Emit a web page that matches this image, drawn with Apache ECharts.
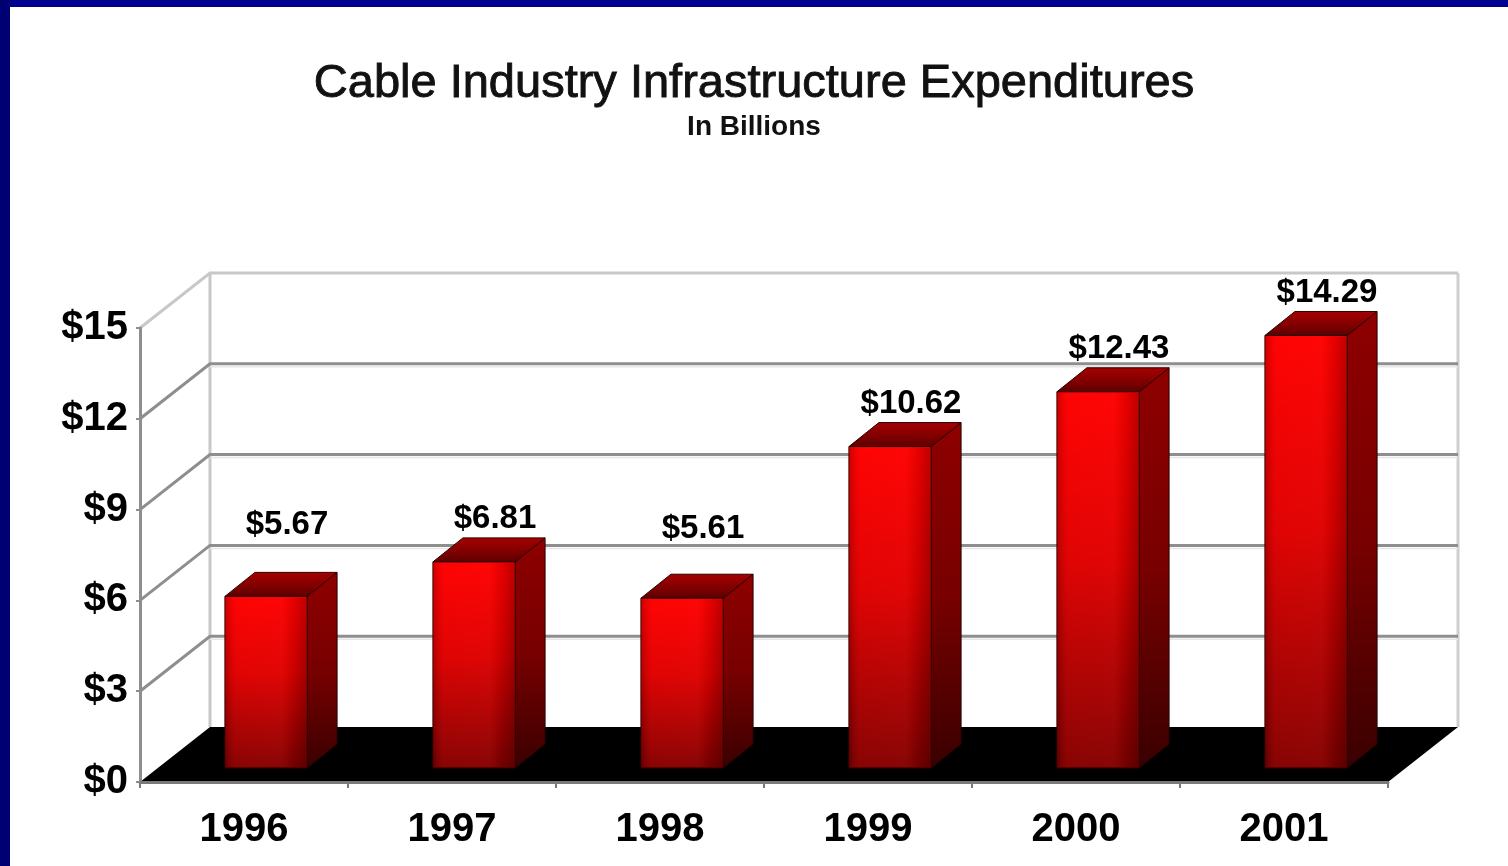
<!DOCTYPE html>
<html><head><meta charset="utf-8">
<script src="https://cdn.jsdelivr.net/npm/echarts@6/dist/echarts.min.js"></script>
<style>html,body{margin:0;padding:0;background:#fff}#c{width:1508px;height:866px}</style>
</head><body><div id="c"></div>
<script>
// ---- data ----
const categories = ['1996', '1997', '1998', '1999', '2000', '2001'];
const values = [5.67, 6.81, 5.61, 10.62, 12.43, 14.29];
const yTicks = [0, 3, 6, 9, 12, 15];

// ---- 3D look constants (styling only) ----
const DX = 70, DY = -55;          // full depth of the box
const BAR_SHIFT = [22, -14];      // bar front plane inside the box
const BAR_DX = 30, BAR_DY = -24;  // bar depth
const BAR_W = 0.395;              // fraction of category band
const LABEL_LIFT = { '1996': 28, '1998': 26 };
const FONT = "'Liberation Sans', Arial, sans-serif";

const chart = echarts.init(document.getElementById('c'), null, { renderer: 'canvas' });

function renderFrame(params, api) {
  const cs = params.coordSys;
  const L = cs.x, R = cs.x + cs.width;
  const y0 = api.coord([0, 0])[1];
  const yTop = api.coord([0, yTicks[yTicks.length - 1]])[1];
  const ch = [];
  ch.push({ type: 'line', shape: { x1: L + DX, y1: yTop + DY, x2: L + DX, y2: y0 + DY }, style: { stroke: '#c8c8c8', lineWidth: 3 } });
  ch.push({ type: 'line', shape: { x1: R + DX, y1: yTop + DY, x2: R + DX, y2: y0 + DY }, style: { stroke: '#cfcfcf', lineWidth: 3 } });
  yTicks.forEach(function (t, k) {
    if (t === 0) return;
    const y = api.coord([0, t])[1];
    const top = k === yTicks.length - 1;
    ch.push({ type: 'polyline', shape: { points: [[L, y], [L + DX, y + DY], [R + DX, y + DY]] },
      style: { stroke: top ? '#c8c8c8' : '#8e8e8e', lineWidth: 3, fill: null } });
    if (!top) {
      ch.push({ type: 'line', shape: { x1: L + DX, y1: y + DY + 3, x2: R + DX, y2: y + DY + 3 }, style: { stroke: '#e6e6e6', lineWidth: 1.5 } });
    }
  });
  ch.push({ type: 'polygon', shape: { points: [[L, y0], [R, y0], [R + DX, y0 + DY], [L + DX, y0 + DY]] }, style: { fill: '#000' } });
  return { type: 'group', children: ch };
}

function renderBar(params, api) {
  const i = api.value(0), v = api.value(1);
  const base = api.coord([i, 0]);
  const top = api.coord([i, v]);
  const bw = api.size([1, 0])[0] * BAR_W;
  const x0 = base[0] + BAR_SHIFT[0] - bw / 2, x1 = x0 + bw;
  const yb = base[1] + BAR_SHIFT[1], yt = top[1] + BAR_SHIFT[1];
  const G = echarts.graphic.LinearGradient;
  const edge = '#2a0000';
  const lift = LABEL_LIFT[categories[i]] || 0;
  return {
    type: 'group',
    children: [
      { type: 'polygon', shape: { points: [[x1, yt], [x1 + BAR_DX, yt + BAR_DY], [x1 + BAR_DX, yb + BAR_DY], [x1, yb]] },
        style: { fill: new G(0, 0, 0, 1, [{ offset: 0, color: '#8e0000' }, { offset: 0.5, color: '#780000' }, { offset: 1, color: '#3a0000' }]), stroke: edge, lineWidth: 1 } },
      { type: 'polygon', shape: { points: [[x0, yt], [x0 + BAR_DX, yt + BAR_DY], [x1 + BAR_DX, yt + BAR_DY], [x1, yt]] },
        style: { fill: new G(0, 1, 0, 0, [{ offset: 0, color: '#5a0000' }, { offset: 0.35, color: '#7a0000' }, { offset: 1, color: '#a80000' }]), stroke: edge, lineWidth: 1 } },
      { type: 'rect', shape: { x: x0, y: yt, width: bw, height: yb - yt },
        style: { fill: new G(0, 0, 0, 1, [{ offset: 0, color: '#ff0000' }, { offset: 0.45, color: '#dd0000' }, { offset: 0.85, color: '#960000' }, { offset: 1, color: '#7a0000' }]), stroke: edge, lineWidth: 1 } },
      { type: 'rect', shape: { x: x0 + 1, y: yt + 1, width: bw - 2, height: yb - yt - 2 },
        style: { fill: new G(0, 0, 1, 0, [{ offset: 0, color: 'rgba(0,0,0,0.18)' }, { offset: 0.12, color: 'rgba(255,40,40,0.10)' }, { offset: 0.7, color: 'rgba(255,60,60,0.10)' }, { offset: 0.86, color: 'rgba(0,0,0,0.10)' }, { offset: 1, color: 'rgba(0,0,0,0.25)' }]) } },
      { type: 'text', x: x0 + bw / 2 + 21, y: yt + BAR_DY - 19 - lift,
        style: { text: '$' + v.toFixed(2), fill: '#000', font: 'bold 33px ' + FONT, align: 'center', verticalAlign: 'middle' } }
    ]
  };
}

chart.setOption({
  backgroundColor: '#ffffff',
  animation: false,
  title: {
    text: 'Cable Industry Infrastructure Expenditures',
    subtext: 'In Billions',
    left: 'center',
    top: 56,
    itemGap: 4,
    textStyle: { fontFamily: FONT, fontSize: 47, fontWeight: 'normal', color: '#111', textBorderColor: '#111', textBorderWidth: 0.9 },
    subtextStyle: { fontFamily: FONT, fontSize: 28, fontWeight: 'bold', color: '#111' }
  },
  graphic: [
    { type: 'rect', shape: { x: 0, y: 0, width: 1508, height: 7 }, style: { fill: '#000090' }, z: 100 },
    { type: 'rect', shape: { x: 0, y: 0, width: 10, height: 866 }, style: { fill: '#000072' }, z: 100 }
  ],
  grid: { left: 140, right: 120, top: 328, bottom: 84 },
  xAxis: {
    type: 'category',
    data: categories,
    z: 10,
    axisLine: { lineStyle: { color: '#7a7a7a', width: 3 } },
    axisTick: { show: true, length: 6, lineStyle: { color: '#7a7a7a', width: 2 } },
    axisLabel: { margin: 28, color: '#000', fontFamily: FONT, fontSize: 40, fontWeight: 'bold' },
    splitLine: { show: false }
  },
  yAxis: {
    type: 'value',
    min: 0, max: 15, interval: 3,
    z: 10,
    axisLine: { show: true, lineStyle: { color: '#8e8e8e', width: 3 } },
    axisTick: { show: true, length: 4, lineStyle: { color: '#8e8e8e', width: 2 } },
    axisLabel: { margin: 12, color: '#000', fontFamily: FONT, fontSize: 40, fontWeight: 'bold', padding: [6, 0, 0, 0], formatter: function (v) { return '$' + v; } },
    splitLine: { show: false }
  },
  series: [
    { type: 'custom', z: 1, silent: true, renderItem: renderFrame, data: [[0, 0]], clip: false },
    { type: 'custom', z: 3, renderItem: renderBar, data: values.map(function (v, i) { return [i, v]; }), clip: false }
  ]
});
</script></body></html>
